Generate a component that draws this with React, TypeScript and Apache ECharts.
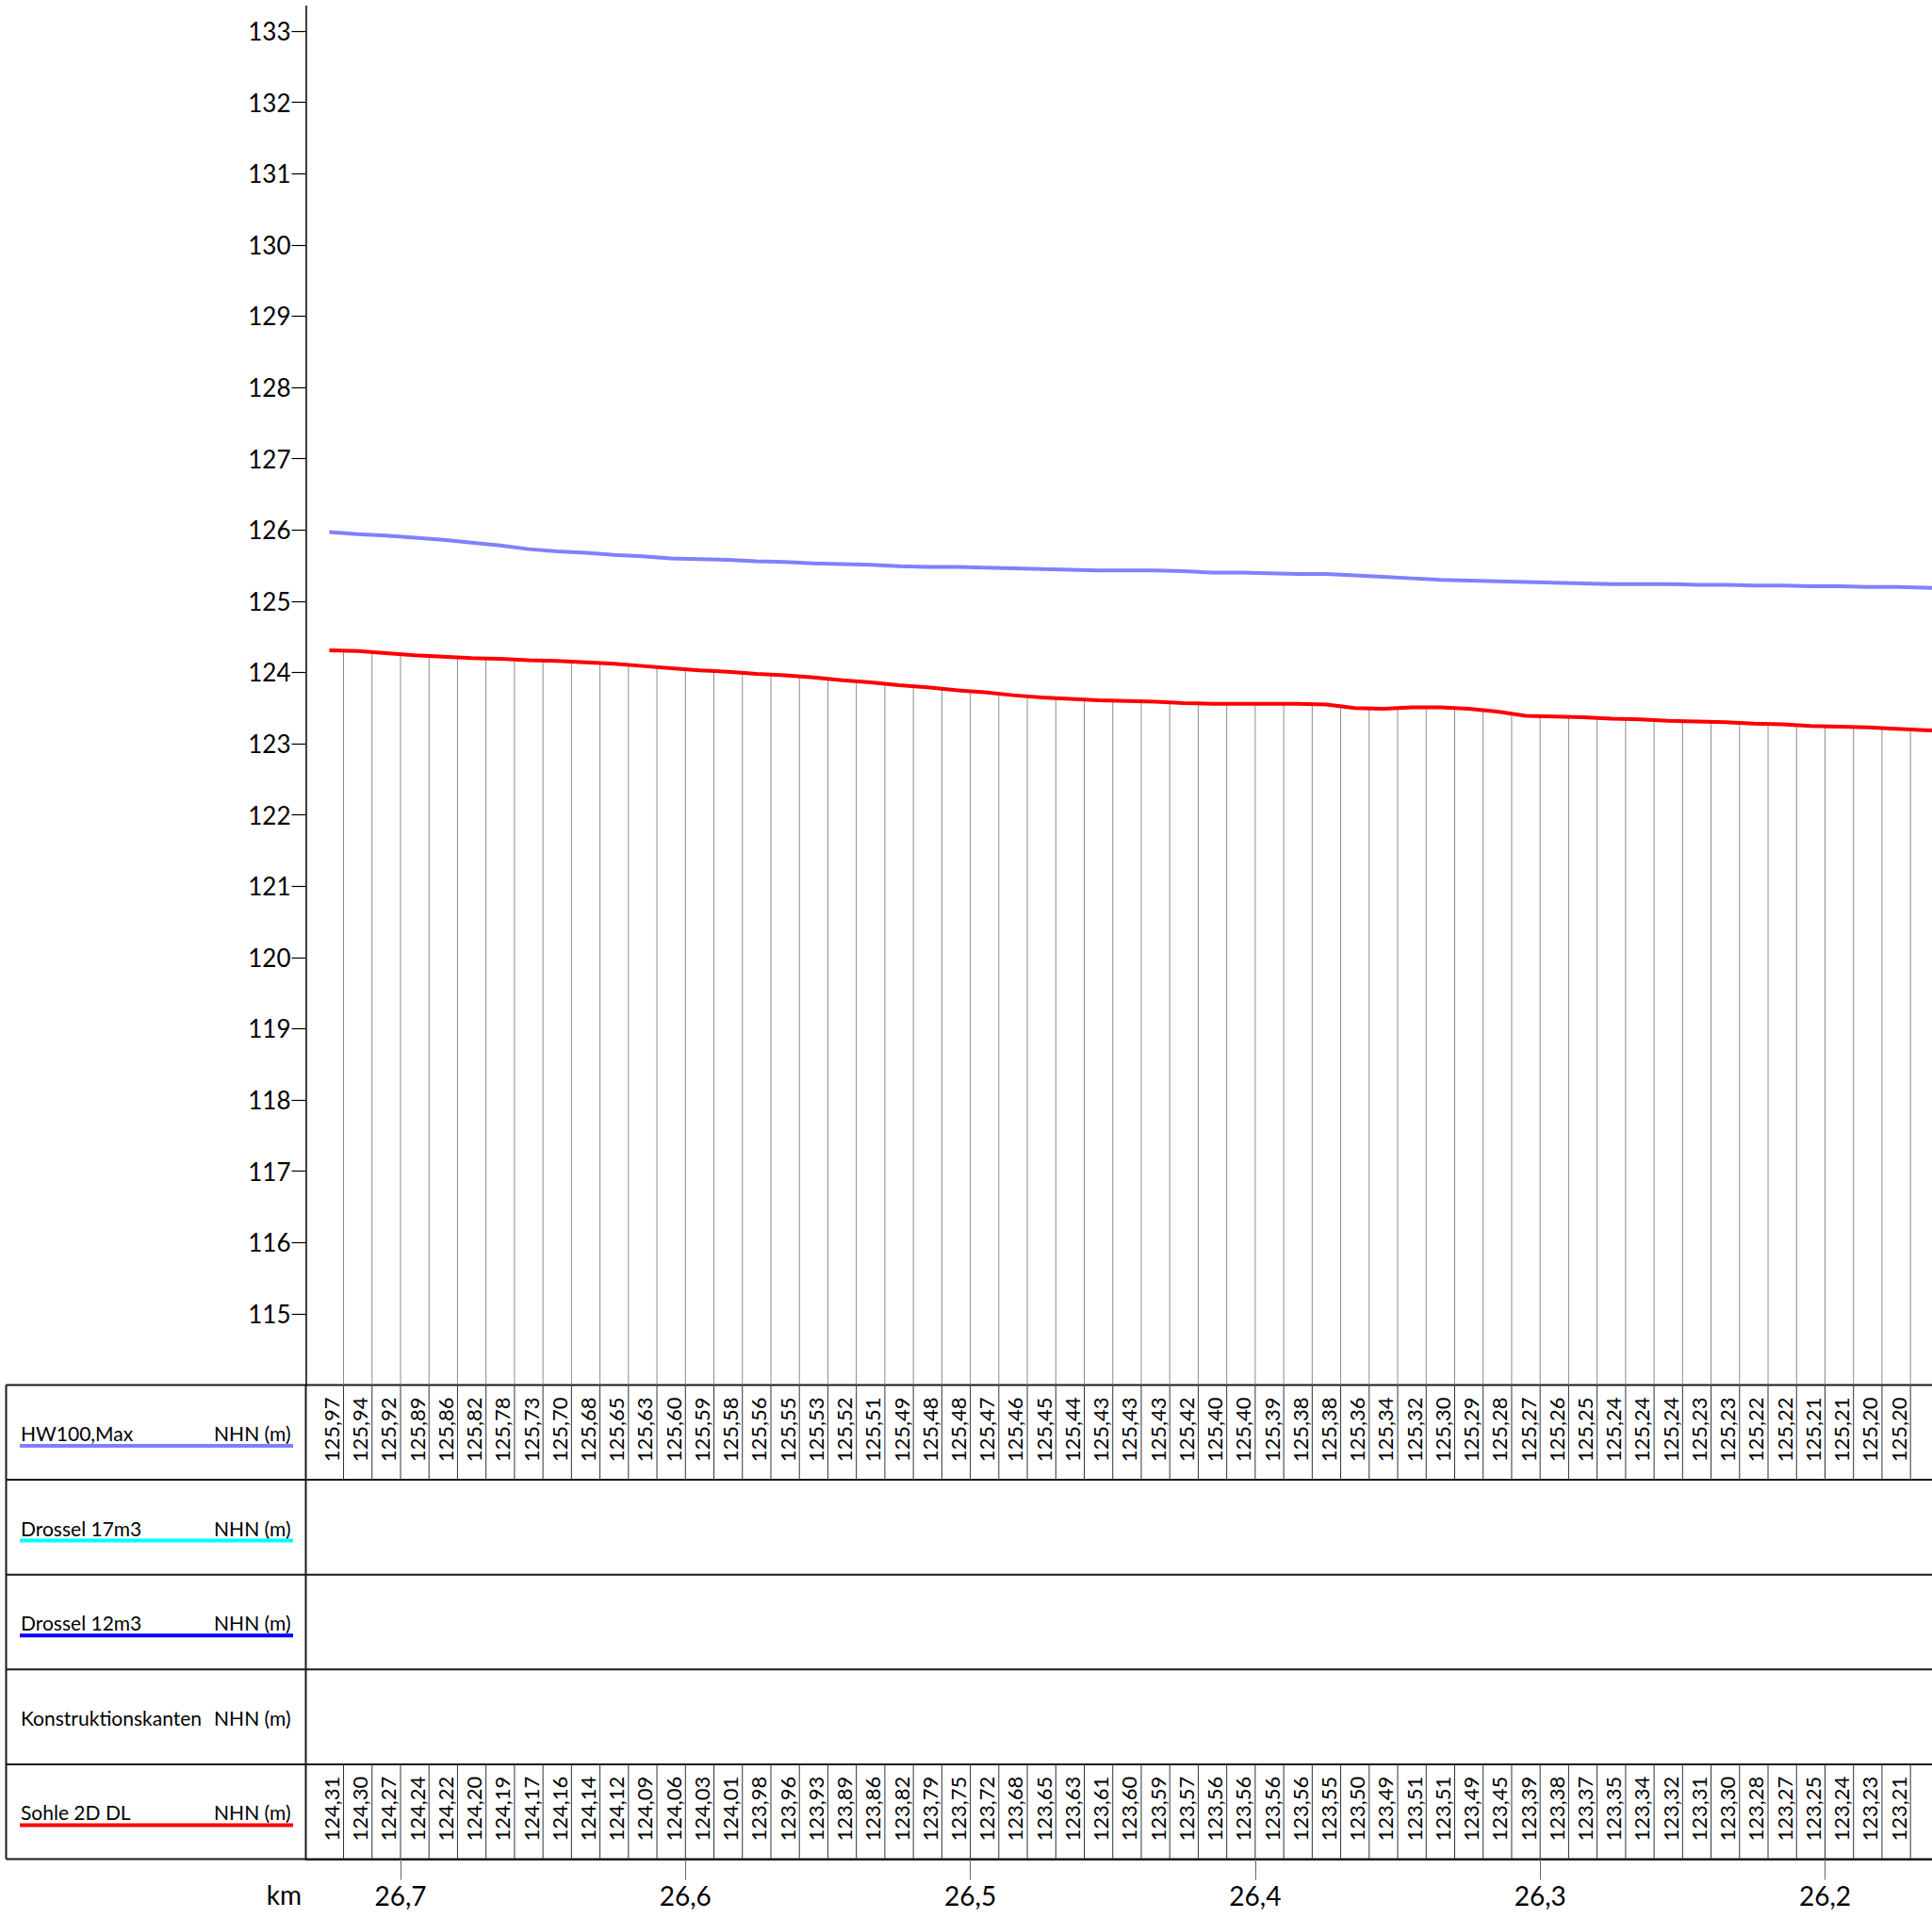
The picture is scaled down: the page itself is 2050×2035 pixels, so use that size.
import React, { useEffect, useRef } from "react";
import * as echarts from "echarts";

// ---- data ----
const stationsKm = [
  26.725, 26.715, 26.705, 26.695, 26.685, 26.675, 26.665, 26.655, 26.645, 26.635,
  26.625, 26.615, 26.605, 26.595, 26.585, 26.575, 26.565, 26.555, 26.545, 26.535,
  26.525, 26.515, 26.505, 26.495, 26.485, 26.475, 26.465, 26.455, 26.445, 26.435,
  26.425, 26.415, 26.405, 26.395, 26.385, 26.375, 26.365, 26.355, 26.345, 26.335,
  26.325, 26.315, 26.305, 26.295, 26.285, 26.275, 26.265, 26.255, 26.245, 26.235,
  26.225, 26.215, 26.205, 26.195, 26.185, 26.175,
];
// stations continuing beyond the cropped right edge (lines only)
const tailKm = [26.165, 26.155];

const hw100Max = [
  125.97, 125.94, 125.92, 125.89, 125.86, 125.82, 125.78, 125.73, 125.70, 125.68,
  125.65, 125.63, 125.60, 125.59, 125.58, 125.56, 125.55, 125.53, 125.52, 125.51,
  125.49, 125.48, 125.48, 125.47, 125.46, 125.45, 125.44, 125.43, 125.43, 125.43,
  125.42, 125.40, 125.40, 125.39, 125.38, 125.38, 125.36, 125.34, 125.32, 125.30,
  125.29, 125.28, 125.27, 125.26, 125.25, 125.24, 125.24, 125.24, 125.23, 125.23,
  125.22, 125.22, 125.21, 125.21, 125.20, 125.20,
];
const hw100Tail = [125.19, 125.18];

const sohle2D = [
  124.31, 124.30, 124.27, 124.24, 124.22, 124.20, 124.19, 124.17, 124.16, 124.14,
  124.12, 124.09, 124.06, 124.03, 124.01, 123.98, 123.96, 123.93, 123.89, 123.86,
  123.82, 123.79, 123.75, 123.72, 123.68, 123.65, 123.63, 123.61, 123.60, 123.59,
  123.57, 123.56, 123.56, 123.56, 123.56, 123.55, 123.50, 123.49, 123.51, 123.51,
  123.49, 123.45, 123.39, 123.38, 123.37, 123.35, 123.34, 123.32, 123.31, 123.30,
  123.28, 123.27, 123.25, 123.24, 123.23, 123.21,
];
const sohleTail = [123.19, 123.17];

const yTickValues = [115, 116, 117, 118, 119, 120, 121, 122, 123, 124, 125, 126, 127, 128, 129, 130, 131, 132, 133];
const kmTickValues = [26.2, 26.3, 26.4, 26.5, 26.6, 26.7];

const rowLabels = ["HW100,Max", "Drossel 17m3", "Drossel 12m3", "Konstruktionskanten", "Sohle 2D DL"];
const rowUnit = "NHN (m)";
const rowColors = ["#8080ff", "#00ffff", "#0000ff", "", "#ff0000"];
const kmLabel = "km";

// ---- layout ----
const W = 2050;
const H = 2035;
const FONT = "Lato, 'Noto Sans', sans-serif";
const Y_MIN = 114;
const Y_MAX = 133.35;
const X_LEFT_KM = 26.73324;
const X_RIGHT_KM = 26.16245;
const GRID_LEFT = 324.5;
const PLOT_TOP = 6.5;
const TABLE_TOP = 1469.5;
const ROW_H = 100.6;
const TABLE_LEFT = 6.5;
const N_ROWS = 5;

const fmt2 = (v: number) => v.toFixed(2).replace(".", ",");

export default function App() {
  const ref = useRef<HTMLDivElement>(null);

  useEffect(() => {
    if (!ref.current) return;
    const chart = echarts.init(ref.current, null, { renderer: "svg" });

    const allKm = stationsKm.concat(tailKm);
    const allHw = hw100Max.concat(hw100Tail);
    const allSohle = sohle2D.concat(sohleTail);

    // boundaries between stations (drop lines / cell separators)
    const boundaries: number[][] = [];
    for (let i = 0; i < stationsKm.length; i++) {
      boundaries.push([(allKm[i] + allKm[i + 1]) / 2, (allSohle[i] + allSohle[i + 1]) / 2]);
    }

    const tableBottom = TABLE_TOP + ROW_H * N_ROWS;
    const graphics: any[] = [];
    for (let r = 0; r <= N_ROWS; r++) {
      const y = TABLE_TOP + r * ROW_H;
      graphics.push({
        type: "line",
        shape: { x1: TABLE_LEFT, y1: y, x2: W, y2: y },
        style: { stroke: "#1a1a1a", lineWidth: 2 },
      });
    }
    [TABLE_LEFT, GRID_LEFT].forEach((x) => {
      graphics.push({
        type: "line",
        shape: { x1: x, y1: TABLE_TOP, x2: x, y2: tableBottom },
        style: { stroke: "#1a1a1a", lineWidth: 2 },
      });
    });
    rowLabels.forEach((lab, r) => {
      const top = TABLE_TOP + r * ROW_H;
      graphics.push({
        type: "text",
        x: 22,
        y: top + 51,
        style: { text: lab, fontSize: 21, fontFamily: FONT, fill: "#000", align: "left", verticalAlign: "middle" },
      });
      graphics.push({
        type: "text",
        x: 308.5,
        y: top + 51,
        style: { text: rowUnit, fontSize: 21, fontFamily: FONT, fill: "#000", align: "right", verticalAlign: "middle" },
      });
      if (rowColors[r]) {
        graphics.push({
          type: "line",
          shape: { x1: 21, y1: top + 64.5, x2: 311, y2: top + 64.5 },
          style: { stroke: rowColors[r], lineWidth: 4 },
        });
      }
    });
    graphics.push({
      type: "text",
      x: 320,
      y: 2010,
      style: { text: kmLabel, fontSize: 28, fontFamily: FONT, fill: "#000", align: "right", verticalAlign: "middle" },
    });

    const cellText = (row: number) => (params: any, api: any) => {
      const p = api.coord([api.value(0), row + 0.47]);
      return {
        type: "text",
        x: p[0] + 2,
        y: p[1],
        rotation: Math.PI / 2,
        style: {
          text: fmt2(api.value(1)),
          fontSize: 22,
          fontFamily: FONT,
          fill: "#000",
          align: "center",
          verticalAlign: "middle",
        },
      };
    };

    const option: any = {
      animation: false,
      graphic: graphics,
      grid: [
        { left: GRID_LEFT, top: PLOT_TOP, width: W - GRID_LEFT, height: TABLE_TOP - PLOT_TOP, containLabel: false },
        { left: GRID_LEFT, top: TABLE_TOP, width: W - GRID_LEFT, height: ROW_H * N_ROWS, containLabel: false },
      ],
      xAxis: [
        { type: "value", gridIndex: 0, min: X_RIGHT_KM, max: X_LEFT_KM, inverse: true, show: false },
        {
          type: "value",
          gridIndex: 1,
          min: X_RIGHT_KM,
          max: X_LEFT_KM,
          inverse: true,
          position: "bottom",
          axisLine: { show: true, onZero: false, lineStyle: { color: "#1a1a1a", width: 2 } },
          splitLine: { show: false },
          axisTick: { show: true, customValues: kmTickValues, length: 22, lineStyle: { color: "#666", width: 1 } },
          axisLabel: {
            customValues: kmTickValues,
            formatter: (v: number) => v.toFixed(1).replace(".", ","),
            fontSize: 28,
            fontFamily: FONT,
            color: "#000",
            margin: 24,
          },
        },
      ],
      yAxis: [
        {
          type: "value",
          gridIndex: 0,
          min: Y_MIN,
          max: Y_MAX,
          axisLine: { show: true, lineStyle: { color: "#000", width: 1.5 } },
          axisTick: { show: true, customValues: yTickValues, length: 15, lineStyle: { color: "#000", width: 1.2 } },
          axisLabel: {
            customValues: yTickValues,
            fontSize: 26,
            fontFamily: FONT,
            color: "#000",
            margin: 16,
          },
          splitLine: { show: false },
        },
        { type: "value", gridIndex: 1, min: 0, max: N_ROWS, inverse: true, show: false },
      ],
      series: [
        {
          type: "custom",
          name: "drop",
          xAxisIndex: 0,
          yAxisIndex: 0,
          data: boundaries,
          z: 1,
          renderItem: (params: any, api: any) => {
            const t = api.coord([api.value(0), api.value(1)]);
            const b = api.coord([api.value(0), Y_MIN]);
            return {
              type: "line",
              shape: { x1: t[0], y1: t[1], x2: b[0], y2: b[1] },
              style: { stroke: "#8c8c8c", lineWidth: 1 },
            };
          },
        },
        {
          type: "line",
          name: "HW100,Max",
          xAxisIndex: 0,
          yAxisIndex: 0,
          data: allKm.map((k, i) => [k, allHw[i]]),
          symbol: "none",
          clip: true,
          z: 3,
          lineStyle: { color: "#8080ff", width: 4 },
        },
        {
          type: "line",
          name: "Sohle 2D DL",
          xAxisIndex: 0,
          yAxisIndex: 0,
          data: allKm.map((k, i) => [k, allSohle[i]]),
          symbol: "none",
          clip: true,
          z: 3,
          lineStyle: { color: "#ff0000", width: 4 },
        },
        {
          type: "custom",
          name: "separators",
          xAxisIndex: 1,
          yAxisIndex: 1,
          data: boundaries,
          renderItem: (params: any, api: any) => {
            const a0 = api.coord([api.value(0), 0]);
            const a1 = api.coord([api.value(0), 1]);
            const b0 = api.coord([api.value(0), 4]);
            const b1 = api.coord([api.value(0), 5]);
            return {
              type: "group",
              children: [
                { type: "line", shape: { x1: a0[0], y1: a0[1], x2: a1[0], y2: a1[1] }, style: { stroke: "#333", lineWidth: 1 } },
                { type: "line", shape: { x1: b0[0], y1: b0[1], x2: b1[0], y2: b1[1] }, style: { stroke: "#333", lineWidth: 1 } },
              ],
            };
          },
        },
        {
          type: "custom",
          name: "HW100 values",
          xAxisIndex: 1,
          yAxisIndex: 1,
          data: stationsKm.map((k, i) => [k, hw100Max[i]]),
          renderItem: cellText(0),
        },
        {
          type: "custom",
          name: "Sohle values",
          xAxisIndex: 1,
          yAxisIndex: 1,
          data: stationsKm.map((k, i) => [k, sohle2D[i]]),
          renderItem: cellText(4),
        },
      ],
    };

    chart.setOption(option);
    return () => chart.dispose();
  }, []);

  return <div ref={ref} style={{ position: "fixed", left: 0, top: 0, width: W, height: H, background: "#fff" }} />;
}
